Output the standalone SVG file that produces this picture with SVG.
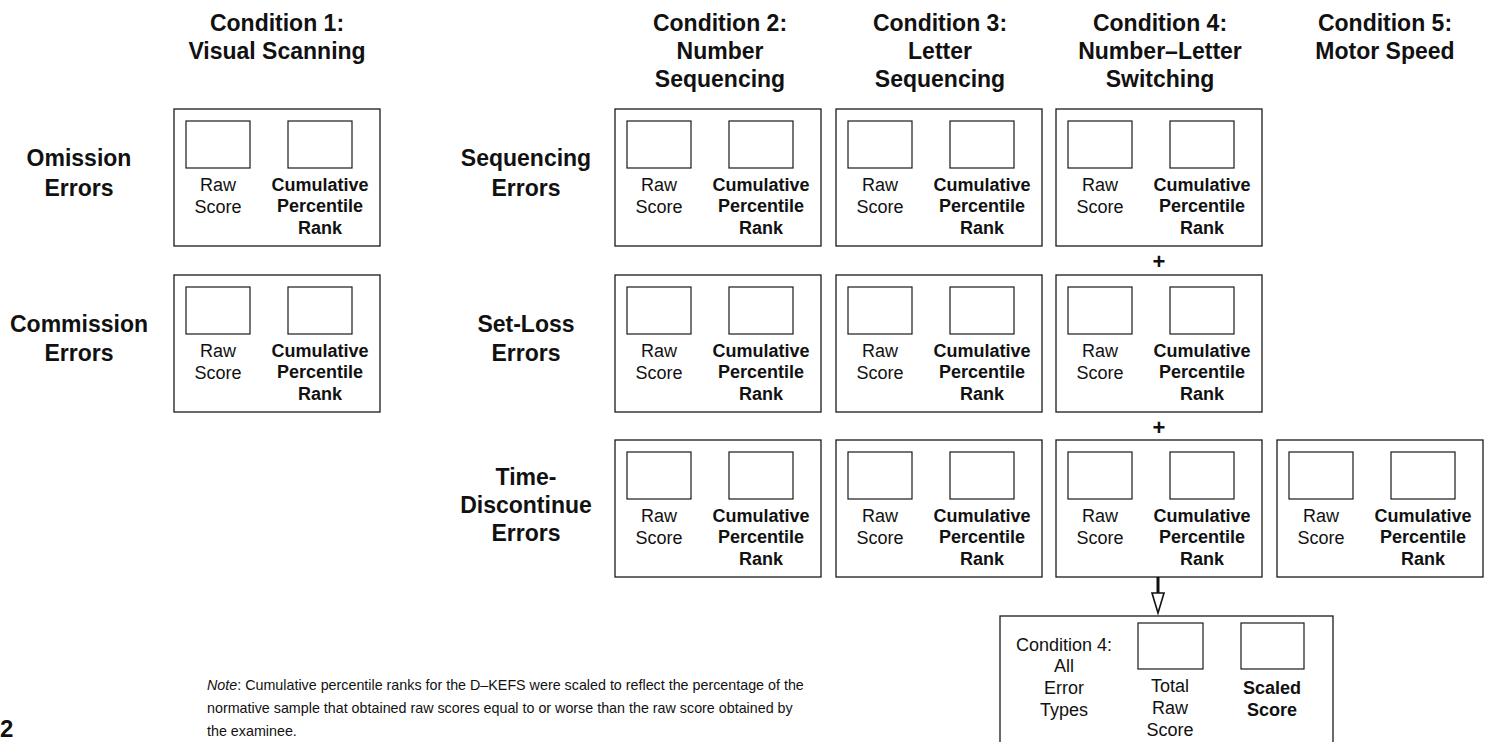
<svg xmlns="http://www.w3.org/2000/svg" width="1491" height="742" viewBox="0 0 1491 742">
<style>
.bx{fill:none;stroke:#1a1a1a;stroke-width:1.3}
.in{fill:#fff;stroke:#1a1a1a;stroke-width:1.2}
.t{font-family:"Liberation Sans",Arial,sans-serif;font-size:18px;fill:#111;text-anchor:middle}
.b{font-weight:bold}
.h{font-family:"Liberation Sans",Arial,sans-serif;font-size:23px;font-weight:bold;fill:#111;text-anchor:middle}
.n{font-family:"Liberation Sans",Arial,sans-serif;font-size:14.3px;fill:#111}
</style>
<rect width="1491" height="742" fill="#fff"/>
<g id="headers">
<text class="h" x="277" y="31">Condition 1:</text><text class="h" x="277" y="59">Visual Scanning</text>
<text class="h" x="720" y="31">Condition 2:</text><text class="h" x="720" y="59">Number</text><text class="h" x="720" y="87">Sequencing</text>
<text class="h" x="940" y="31">Condition 3:</text><text class="h" x="940" y="59">Letter</text><text class="h" x="940" y="87">Sequencing</text>
<text class="h" x="1160" y="31">Condition 4:</text><text class="h" x="1160" y="59">Number–Letter</text><text class="h" x="1160" y="87">Switching</text>
<text class="h" x="1385" y="31">Condition 5:</text><text class="h" x="1385" y="59">Motor Speed</text>
</g>
<g id="rowlabels">
<text class="h" x="79" y="166">Omission</text><text class="h" x="79" y="196">Errors</text>
<text class="h" x="79" y="332">Commission</text><text class="h" x="79" y="361">Errors</text>
<text class="h" x="526" y="166">Sequencing</text><text class="h" x="526" y="196">Errors</text>
<text class="h" x="526" y="332">Set-Loss</text><text class="h" x="526" y="361">Errors</text>
<text class="h" x="526" y="485">Time-</text><text class="h" x="526" y="513">Discontinue</text><text class="h" x="526" y="541">Errors</text>
</g>
<g id="c1-omission" transform="translate(174,109)"><rect class="bx" width="206" height="137"/><rect class="in" x="12" y="12" width="64" height="47"/><rect class="in" x="114" y="12" width="64" height="47"/><text class="t" x="44" y="82">Raw</text><text class="t" x="44" y="104">Score</text><text class="t b" x="146" y="82">Cumulative</text><text class="t b" x="146" y="103">Percentile</text><text class="t b" x="146" y="125">Rank</text></g>
<g id="c1-commission" transform="translate(174,275)"><rect class="bx" width="206" height="137"/><rect class="in" x="12" y="12" width="64" height="47"/><rect class="in" x="114" y="12" width="64" height="47"/><text class="t" x="44" y="82">Raw</text><text class="t" x="44" y="104">Score</text><text class="t b" x="146" y="82">Cumulative</text><text class="t b" x="146" y="103">Percentile</text><text class="t b" x="146" y="125">Rank</text></g>
<g id="c2-sequencing" transform="translate(615,109)"><rect class="bx" width="206" height="137"/><rect class="in" x="12" y="12" width="64" height="47"/><rect class="in" x="114" y="12" width="64" height="47"/><text class="t" x="44" y="82">Raw</text><text class="t" x="44" y="104">Score</text><text class="t b" x="146" y="82">Cumulative</text><text class="t b" x="146" y="103">Percentile</text><text class="t b" x="146" y="125">Rank</text></g>
<g id="c2-setloss" transform="translate(615,275)"><rect class="bx" width="206" height="137"/><rect class="in" x="12" y="12" width="64" height="47"/><rect class="in" x="114" y="12" width="64" height="47"/><text class="t" x="44" y="82">Raw</text><text class="t" x="44" y="104">Score</text><text class="t b" x="146" y="82">Cumulative</text><text class="t b" x="146" y="103">Percentile</text><text class="t b" x="146" y="125">Rank</text></g>
<g id="c2-timediscontinue" transform="translate(615,440)"><rect class="bx" width="206" height="137"/><rect class="in" x="12" y="12" width="64" height="47"/><rect class="in" x="114" y="12" width="64" height="47"/><text class="t" x="44" y="82">Raw</text><text class="t" x="44" y="104">Score</text><text class="t b" x="146" y="82">Cumulative</text><text class="t b" x="146" y="103">Percentile</text><text class="t b" x="146" y="125">Rank</text></g>
<g id="c3-sequencing" transform="translate(836,109)"><rect class="bx" width="206" height="137"/><rect class="in" x="12" y="12" width="64" height="47"/><rect class="in" x="114" y="12" width="64" height="47"/><text class="t" x="44" y="82">Raw</text><text class="t" x="44" y="104">Score</text><text class="t b" x="146" y="82">Cumulative</text><text class="t b" x="146" y="103">Percentile</text><text class="t b" x="146" y="125">Rank</text></g>
<g id="c3-setloss" transform="translate(836,275)"><rect class="bx" width="206" height="137"/><rect class="in" x="12" y="12" width="64" height="47"/><rect class="in" x="114" y="12" width="64" height="47"/><text class="t" x="44" y="82">Raw</text><text class="t" x="44" y="104">Score</text><text class="t b" x="146" y="82">Cumulative</text><text class="t b" x="146" y="103">Percentile</text><text class="t b" x="146" y="125">Rank</text></g>
<g id="c3-timediscontinue" transform="translate(836,440)"><rect class="bx" width="206" height="137"/><rect class="in" x="12" y="12" width="64" height="47"/><rect class="in" x="114" y="12" width="64" height="47"/><text class="t" x="44" y="82">Raw</text><text class="t" x="44" y="104">Score</text><text class="t b" x="146" y="82">Cumulative</text><text class="t b" x="146" y="103">Percentile</text><text class="t b" x="146" y="125">Rank</text></g>
<g id="c4-sequencing" transform="translate(1056,109)"><rect class="bx" width="206" height="137"/><rect class="in" x="12" y="12" width="64" height="47"/><rect class="in" x="114" y="12" width="64" height="47"/><text class="t" x="44" y="82">Raw</text><text class="t" x="44" y="104">Score</text><text class="t b" x="146" y="82">Cumulative</text><text class="t b" x="146" y="103">Percentile</text><text class="t b" x="146" y="125">Rank</text></g>
<g id="c4-setloss" transform="translate(1056,275)"><rect class="bx" width="206" height="137"/><rect class="in" x="12" y="12" width="64" height="47"/><rect class="in" x="114" y="12" width="64" height="47"/><text class="t" x="44" y="82">Raw</text><text class="t" x="44" y="104">Score</text><text class="t b" x="146" y="82">Cumulative</text><text class="t b" x="146" y="103">Percentile</text><text class="t b" x="146" y="125">Rank</text></g>
<g id="c4-timediscontinue" transform="translate(1056,440)"><rect class="bx" width="206" height="137"/><rect class="in" x="12" y="12" width="64" height="47"/><rect class="in" x="114" y="12" width="64" height="47"/><text class="t" x="44" y="82">Raw</text><text class="t" x="44" y="104">Score</text><text class="t b" x="146" y="82">Cumulative</text><text class="t b" x="146" y="103">Percentile</text><text class="t b" x="146" y="125">Rank</text></g>
<g id="c5-motorspeed" transform="translate(1277,440)"><rect class="bx" width="206" height="137"/><rect class="in" x="12" y="12" width="64" height="47"/><rect class="in" x="114" y="12" width="64" height="47"/><text class="t" x="44" y="82">Raw</text><text class="t" x="44" y="104">Score</text><text class="t b" x="146" y="82">Cumulative</text><text class="t b" x="146" y="103">Percentile</text><text class="t b" x="146" y="125">Rank</text></g>
<g id="c4-total"><rect class="bx" x="1000" y="616" width="333" height="140"/><rect class="in" x="1138" y="623" width="65" height="46"/><rect class="in" x="1241" y="623" width="63" height="46"/><text class="t" x="1064" y="651">Condition 4:</text><text class="t" x="1064" y="672">All</text><text class="t" x="1064" y="694">Error</text><text class="t" x="1064" y="716">Types</text><text class="t" x="1170" y="692">Total</text><text class="t" x="1170" y="714">Raw</text><text class="t" x="1170" y="736">Score</text><text class="t b" x="1272" y="694">Scaled</text><text class="t b" x="1272" y="716">Score</text></g>
<g id="connectors">
<text class="h" x="1159" y="269" style="font-size:22px">+</text>
<text class="h" x="1159" y="435" style="font-size:22px">+</text>
<line x1="1158" y1="577" x2="1158" y2="598" stroke="#111" stroke-width="3"/>
<polygon points="1152,593 1164,593 1158,613" fill="#fff" stroke="#111" stroke-width="1.6"/>
</g>
<g id="note">
<text class="n" x="207" y="690"><tspan font-style="italic">Note</tspan>: Cumulative percentile ranks for the D–KEFS were scaled to reflect the percentage of the</text>
<text class="n" x="207" y="713">normative sample that obtained raw scores equal to or worse than the raw score obtained by</text>
<text class="n" x="207" y="736">the examinee.</text>
<text x="0" y="737" style="font-family:'Liberation Sans',Arial,sans-serif;font-size:24px;font-weight:bold;fill:#111">2</text>
</g>
</svg>
